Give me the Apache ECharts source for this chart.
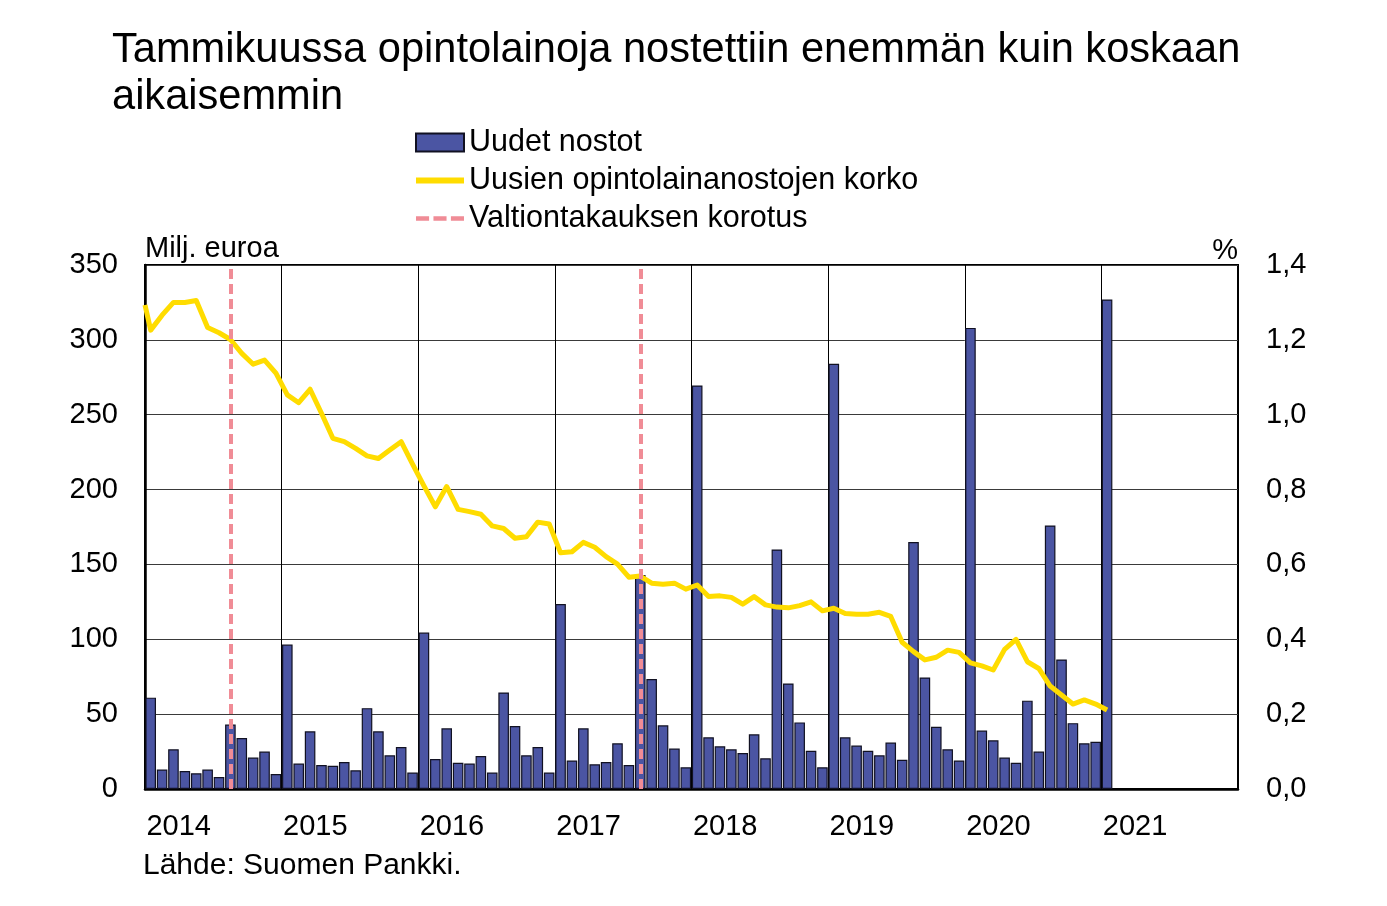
<!DOCTYPE html>
<html>
<head>
<meta charset="utf-8">
<script src="https://cdn.jsdelivr.net/npm/echarts@6/dist/echarts.min.js"></script>
<style>
html,body{margin:0;padding:0;background:#fff;}
#chart{width:1387px;height:906px;}
</style>
</head>
<body>
<div id="chart"></div>
<script>
// ---- data ----
const yearLabels = ['2014', '2015', '2016', '2017', '2018', '2019', '2020', '2021'];
const monthLabels = ['01','02','03','04','05','06','07','08','09','10','11','12'];

// Uudet nostot, milj. euroa, monthly from 2014-01
const loanStart = '2014-01';
const loans = [
  61, 13, 26.5, 12, 10.5, 13, 8, 43, 34, 21, 25, 10,
  96.5, 17, 38.5, 16, 15.5, 18, 12.5, 54, 38.5, 22.5, 28, 11,
  104.5, 20, 40.5, 17.5, 17, 22, 11, 64.5, 42, 22.5, 28, 11,
  123.5, 19, 40.5, 16.5, 18, 30.5, 16, 143, 73.5, 42.5, 27, 14.5,
  269.5, 34.5, 28.5, 26.5, 24, 36.5, 20.5, 160, 70.5, 44.5, 25.5, 14.5,
  284, 34.5, 29, 25.5, 22.5, 31, 19.5, 165, 74.5, 41.5, 26.5, 19,
  308, 39, 32.5, 21, 17.5, 59, 25, 176, 86.5, 44, 30.5, 31.5,
  327
];

// Uusien opintolainanostojen korko, %
// value where the line enters at the left edge of the plot, then monthly from 2014-01
const rateEdgeValue = 1.293;
const rateStart = '2014-01';
const rates = [
  1.226, 1.266, 1.300, 1.300, 1.305, 1.233, 1.219, 1.201, 1.164, 1.135, 1.146, 1.111,
  1.053, 1.032, 1.068, 1.004, 0.937, 0.928, 0.910, 0.890, 0.883, 0.906, 0.928, 0.868,
  0.810, 0.754, 0.808, 0.747, 0.741, 0.734, 0.703, 0.696, 0.670, 0.674, 0.713, 0.708,
  0.631, 0.634, 0.659, 0.646, 0.621, 0.601, 0.566, 0.569, 0.550, 0.547, 0.550, 0.534,
  0.545, 0.514, 0.516, 0.512, 0.494, 0.514, 0.492, 0.486, 0.484, 0.490, 0.500, 0.476,
  0.483, 0.469, 0.467, 0.467, 0.472, 0.461, 0.392, 0.367, 0.345, 0.352, 0.371, 0.365,
  0.337, 0.329, 0.318, 0.373, 0.400, 0.340, 0.322, 0.275, 0.251, 0.227, 0.238, 0.227,
  0.211
];

// Valtiontakauksen korotus
const guaranteeIncreases = ['2014-08', '2017-08'];

const leftTicks = { min: 0, max: 350, interval: 50 };
const rightTicks = { min: 0, max: 1.4, interval: 0.2 };

// ---- build ----
const categories = [];
yearLabels.forEach(y => monthLabels.forEach(m => categories.push(y + '-' + m)));
const idx = s => categories.indexOf(s);

const loanOffset = idx(loanStart);
const loanData = categories.map((c, i) => {
  const k = i - loanOffset;
  return (k >= 0 && k < loans.length) ? loans[k] : null;
});
const rateOffset = idx(rateStart);
const rateData = [[0, rateEdgeValue]].concat(rates.map((v, i) => [rateOffset + i + 0.5, v]));

const FONT = 'Arial, "Liberation Sans", sans-serif';
const YELLOW = '#FFDC00';
const PINK = '#F08C96';
const chart = echarts.init(document.getElementById('chart'), null, { renderer: 'canvas' });

chart.setOption({
  animation: false,
  backgroundColor: '#fff',
  textStyle: { fontFamily: FONT, color: '#000' },
  title: [
    {
      text: 'Tammikuussa opintolainoja nostettiin enemmän kuin koskaan\naikaisemmin',
      left: 107, top: 22,
      textStyle: { fontFamily: FONT, fontSize: 41.6, fontWeight: 'normal', color: '#000', lineHeight: 47 }
    },
    {
      text: 'Lähde: Suomen Pankki.',
      left: 138, top: 846,
      textStyle: { fontFamily: FONT, fontSize: 30, fontWeight: 'normal', color: '#000', lineHeight: 30 }
    }
  ],
  legend: {
    orient: 'vertical',
    left: 410, top: 122,
    itemWidth: 48, itemHeight: 18,
    itemGap: 7,
    textStyle: { fontFamily: FONT, fontSize: 30.5, color: '#000', lineHeight: 30 },
    data: [
      { name: 'Uudet nostot', icon: 'rect' },
      { name: 'Uusien opintolainanostojen korko', icon: 'path://M0,0H48V6H0Z' },
      { name: 'Valtiontakauksen korotus', icon: 'path://M0,0H12V4H0Z M16,0H28V4H16Z M32,0H44V4H32Z' }
    ]
  },
  grid: {
    left: 145, right: 149, top: 265, bottom: 117,
    show: true, borderColor: '#000', borderWidth: 2, backgroundColor: 'transparent'
  },
  xAxis: [
    {
      type: 'category',
      data: categories,
      boundaryGap: true,
      axisLine: { show: true, lineStyle: { color: '#000', width: 2.5 } },
      axisTick: { show: false },
      axisLabel: {
        interval: (i) => i % 12 === 0,
        formatter: (v) => v.slice(0, 4),
        align: 'center',
        padding: [0, 0, 0, 56],
        margin: 23,
        fontFamily: FONT, fontSize: 29, color: '#000'
      },
      splitLine: {
        show: true,
        interval: (i) => i % 12 === 0,
        lineStyle: { color: '#000', width: 1 }
      }
    },
    {
      type: 'value',
      min: 0, max: categories.length,
      show: false
    }
  ],
  yAxis: [
    {
      type: 'value',
      min: leftTicks.min, max: leftTicks.max, interval: leftTicks.interval,
      name: 'Milj. euroa',
      nameLocation: 'end',
      nameGap: 16,
      nameTextStyle: { fontFamily: FONT, fontSize: 29, color: '#000', align: 'left', verticalAlign: 'middle' },
      axisLine: { show: true, lineStyle: { color: '#000', width: 2.5 } },
      axisTick: { show: false },
      axisLabel: { margin: 27, fontFamily: FONT, fontSize: 29, color: '#000' },
      splitLine: { show: true, lineStyle: { color: '#3a3a3a', width: 1 } }
    },
    {
      type: 'value',
      min: rightTicks.min, max: rightTicks.max, interval: rightTicks.interval,
      position: 'right',
      name: '%',
      nameLocation: 'end',
      nameGap: 14,
      nameTextStyle: { fontFamily: FONT, fontSize: 29, color: '#000', align: 'right', verticalAlign: 'middle' },
      axisLine: { show: false },
      axisTick: { show: false },
      axisLabel: {
        margin: 28, fontFamily: FONT, fontSize: 29, color: '#000',
        formatter: (v) => v.toFixed(1).replace('.', ',')
      },
      splitLine: { show: false }
    }
  ],
  series: [
    {
      name: 'Uudet nostot',
      type: 'bar',
      xAxisIndex: 0, yAxisIndex: 0,
      data: loanData,
      barCategoryGap: '7%',
      itemStyle: { color: '#4B55A3', borderColor: '#111122', borderWidth: 1.2 },
      z: 2
    },
    {
      name: 'Uusien opintolainanostojen korko',
      type: 'line',
      xAxisIndex: 1, yAxisIndex: 1,
      data: rateData,
      symbol: 'none',
      clip: true,
      lineStyle: { color: YELLOW, width: 5, join: 'round' },
      itemStyle: { color: YELLOW },
      z: 3
    },
    {
      name: 'Valtiontakauksen korotus',
      type: 'line',
      xAxisIndex: 0, yAxisIndex: 0,
      data: [],
      symbol: 'none',
      lineStyle: { color: PINK, width: 4, type: [10, 5] },
      itemStyle: { color: PINK },
      markLine: {
        silent: true,
        symbol: ['none', 'none'],
        label: { show: false },
        lineStyle: { color: PINK, width: 4, type: [10, 5] },
        data: guaranteeIncreases.map(m => ({ xAxis: m }))
      },
      z: 5
    }
  ]
});
</script>
</body>
</html>
